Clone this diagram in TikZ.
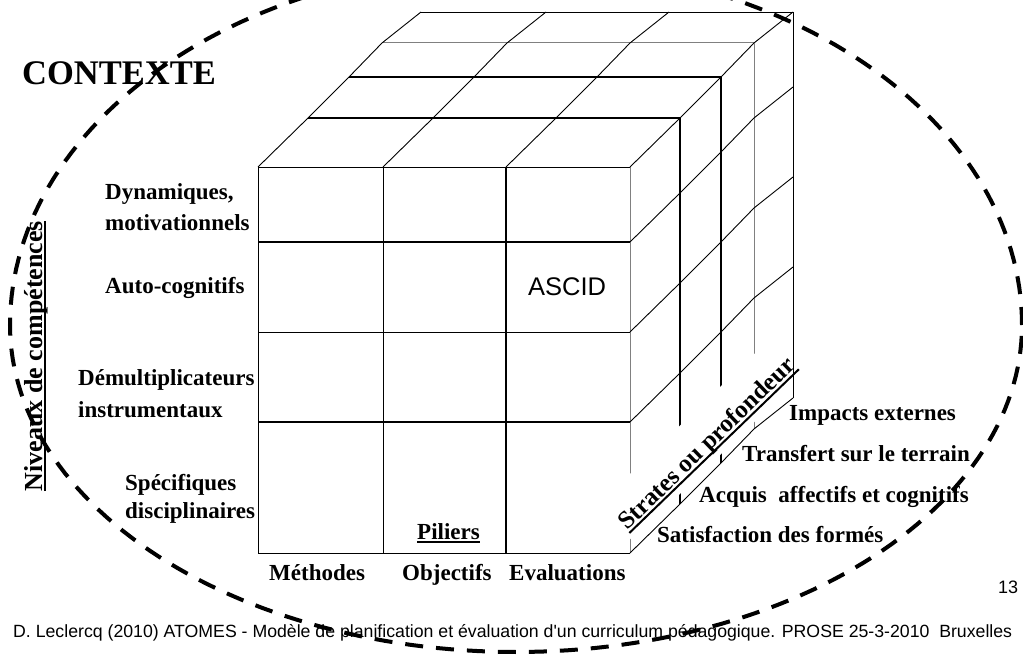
\documentclass[tikz,border=0pt]{standalone}
\usepackage{fontspec}
\setmainfont{Liberation Serif}
\newfontfamily\arialfont{Liberation Sans}
% underline drawn as a rule below the baseline, so it turns with rotated text
\newsavebox\ulinebox
\newcommand\ulined[1]{\sbox\ulinebox{#1}\makebox[0pt][l]{\rule[-4pt]{\wd\ulinebox}{2pt}}\usebox\ulinebox}

\begin{document}
\begin{tikzpicture}[x=1pt,y=-1pt,
  thinline/.style={line width=0.9pt,black},
  thickline/.style={line width=2pt,black},
  greyline/.style={line width=1pt,black!50},
  lbl/.style={font=\fontsize{23}{23}\selectfont\bfseries,inner sep=0pt,anchor=base west},
  contour/.style={line width=4pt,dash pattern=on 18pt off 13pt}]
\useasboundingbox (0,0) rectangle (1023,663);

% ---- front face of the cube ----
\draw[thinline]  (258,167) -- (630,167);
\draw[thickline] (258,242) -- (630,242);
\draw[thinline]  (258,332) -- (630,332);
\draw[thickline] (258,422) -- (630,422);
\draw[thinline]  (258,553) -- (630,553);
\draw[thinline]  (258,167) -- (258,553);
\draw[thinline]  (383,167) -- (383,553);
\draw[thickline] (506,167) -- (506,553);
\draw[greyline]  (630,167) -- (630,553);

% ---- top face: depth slices ----
\draw[thickline] (308,118) -- (680,118);
\draw[thickline] (349,77) -- (721,77);
\draw[greyline]  (382,43) -- (754,43);
\draw[thinline]  (421,12) -- (793,12);
% top face: receding column edges
\foreach \x in {258,383,506,630}
  \draw[thinline] (\x,167) -- (\x+50,118) -- (\x+91,77) -- (\x+124,43) -- (\x+163,12);

% ---- right face: depth slices ----
\draw[thickline] (680,118) -- (680,504);
\draw[thickline] (721,77) -- (721,463);
\draw[greyline]  (754,43) -- (754,429);
% right face: receding row edges
\foreach \y in {242,332,422,553}
  \draw[thinline] (630,\y) -- (680,\y-49) -- (721,\y-90) -- (754,\y-124) -- (793,\y-155);

% white band behind the depth axis title
\begin{scope}[shift={(712,449)},rotate=44]
  \fill[white] (-121,-39) rectangle (121,10);
\end{scope}
\node[rotate=44,anchor=base,inner sep=0pt,
      font=\fontsize{25}{25}\selectfont\bfseries] (strates) at (712,449)
      {\ulined{Strates ou profondeur}};
\draw[thinline] (793,12) -- (793,398);

% ---- cell text ----
\node[anchor=base west,inner sep=0pt,font=\arialfont\fontsize{25.5}{25.5}\selectfont] (ascid) at (528,295) {ASCID};

% ---- title ----
\node[anchor=base west,inner sep=0pt,font=\fontsize{34.5}{34.5}\selectfont\bfseries] (contexte) at (22,85) {CONTEXTE};

% ---- competence levels ----
\node[rotate=90,anchor=base,inner sep=0pt,font=\fontsize{26}{26}\selectfont\bfseries] (niveaux) at (42,356)
  {\ulined{Niveaux de compétences}};
\node[lbl] (dyn1) at (105,200) {Dynamiques,};
\node[lbl] (dyn2) at (105,231) {motivationnels};
\node[lbl] (auto) at (105,294) {Auto-cognitifs};
\node[lbl] (dem1) at (78,385) {Démultiplicateurs};
\node[lbl] (dem2) at (78,417) {instrumentaux};
\node[lbl] (spe1) at (125,490) {Spécifiques};
\node[lbl] (spe2) at (125,518) {disciplinaires};

% ---- pillars ----
\node[lbl] (piliers) at (417,539) {\ulined{Piliers}};
\node[lbl] (meth) at (269,580) {Méthodes};
\node[lbl] (obj) at (402,580) {Objectifs};
\node[lbl] (eval) at (509,580) {Evaluations};

% ---- strata ----
\node[lbl] (s4) at (789,420) {Impacts externes};
\node[lbl] (s3) at (742,461) {Transfert sur le terrain};
\node[lbl] (s2) at (699,502) {Acquis\ \ affectifs et cognitifs};
\node[lbl] (s1) at (657,542) {Satisfaction des formés};

% ---- page number and reference ----
\node[anchor=base west,inner sep=0pt,font=\arialfont\fontsize{18}{18}\selectfont] (page) at (998,593) {13};
\node[anchor=base west,inner sep=0pt,font=\arialfont\fontsize{17.7}{17.7}\selectfont] (foot) at (13,637)
  {D. Leclercq (2010) ATOMES - Modèle de planification et évaluation d'un curriculum pédagogique. PROSE 25-3-2010\ \ Bruxelles};

% ---- context boundary: taller above its widest line than below ----
\draw[contour] plot[domain=0:360,samples=241]
  ({516+506*cos(\x)},{325-(\x<180 ? 361 : 327)*sin(\x)}) -- cycle;
\end{tikzpicture}
\end{document}
